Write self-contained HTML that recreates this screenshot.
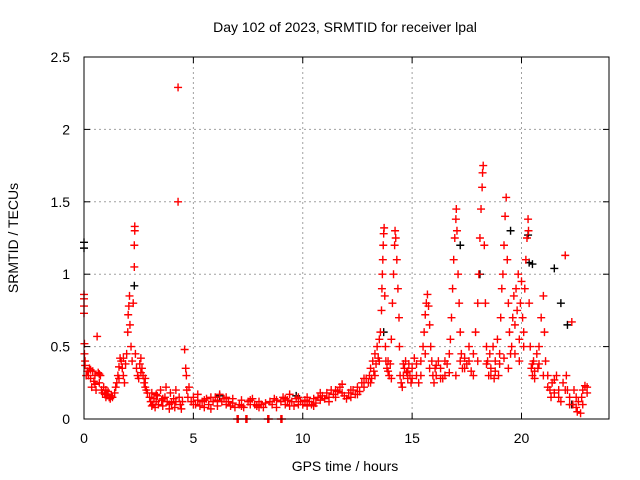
<!DOCTYPE html>
<html><head><meta charset="utf-8"><style>
html,body{margin:0;padding:0;background:#fff;}
svg{display:block;font-family:"Liberation Sans",sans-serif;font-size:14px;}
</style></head><body>
<svg id="chart" width="640" height="480">
<text x="345" y="32" text-anchor="middle">Day 102 of 2023, SRMTID for receiver lpal</text>
<text x="345" y="471" text-anchor="middle">GPS time / hours</text>
<text transform="translate(18,238) rotate(-90)" text-anchor="middle">SRMTID / TECUs</text>
<g id="grid"></g>
<g id="marks"></g>
<g id="axes"></g>
</svg>
<script>
const xTicks=[0,5,10,15,20];
const yTicks=[0,0.5,1,1.5,2,2.5];
const yTickLabels=["0","0.5","1","1.5","2","2.5"];
const redSeries=[[0,0.86],[0,0.83],[0,0.78],[0,0.73],[0.02,0.52],[0.02,0.45],[0.05,0.4],[0.05,0.37],
[0.15,0.33],[0.2,0.3],[0.25,0.35],[0.3,0.28],[0.35,0.22],[0.4,0.33],[0.45,0.26],[0.5,0.3],[0.55,0.2],[0.6,0.57],[0.65,0.32],[0.7,0.25],[0.75,0.3],[0.8,0.2],[0.85,0.18],[0.9,0.22],[0.95,0.17],
[1.0,0.2],[1.05,0.17],[1.1,0.19],[1.15,0.15],[1.2,0.14],[1.25,0.16],[1.3,0.15],[1.4,0.18],[1.45,0.22],
[1.5,0.25],[1.55,0.3],[1.6,0.36],[1.65,0.42],[1.7,0.4],[1.75,0.35],[1.8,0.3],[1.85,0.25],[1.9,0.38],[1.95,0.45],
[2.0,0.6],[2.02,0.72],[2.05,0.78],[2.08,0.85],[2.1,0.65],[2.15,0.5],[2.2,0.4],[2.25,0.8],[2.3,1.05],[2.3,1.2],[2.32,1.3],[2.32,1.33],[2.35,0.45],[2.4,0.35],
[2.45,0.3],[2.5,0.28],[2.55,0.38],[2.6,0.42],[2.65,0.35],[2.7,0.3],[2.75,0.25],[2.8,0.22],[2.85,0.2],[2.9,0.18],
[3.0,0.15],[3.05,0.12],[3.1,0.18],[3.15,0.1],[3.2,0.14],[3.25,0.08],[3.3,0.12],[3.35,0.16],[3.4,0.1],[3.5,0.2],[3.55,0.13],[3.6,0.09],[3.7,0.15],[3.75,0.22],[3.8,0.12],[3.9,0.1],[3.95,0.18],[4.0,0.11],[4.1,0.14],[4.15,0.08],[4.2,0.2],
[4.3,2.29],[4.3,1.5],[4.35,0.15],[4.4,0.1],[4.45,0.07],[4.5,0.12],
[4.6,0.48],[4.65,0.35],[4.68,0.3],[4.7,0.2],[4.75,0.15],[4.8,0.22],[4.9,0.12],
[5.0,0.15],[5.1,0.1],[5.2,0.13],[5.3,0.09],[5.4,0.12],[5.5,0.08],[5.6,0.14],[5.7,0.1],[5.8,0.07],[5.9,0.12],[6.0,0.15],[6.1,0.13],[6.2,0.17],[6.3,0.12],[6.4,0.14],[6.5,0.1],[6.6,0.12],[6.7,0.09],[6.8,0.11],[6.9,0.08],
[7.0,0.0],[7.05,0.0],[7.4,0.0],[7.45,0.0],[8.4,0.0],[8.45,0.0],[9.0,0.0],[9.05,0.0],
[7.1,0.1],[7.2,0.13],[7.3,0.08],[7.5,0.12],[7.6,0.1],[7.7,0.14],[7.8,0.1],[7.9,0.09],[8.0,0.12],[8.1,0.1],[8.2,0.08],[8.5,0.12],[8.6,0.1],[8.7,0.14],[8.8,0.08],[9.0,0.12],[9.1,0.15],[9.2,0.1],[9.3,0.13],[9.4,0.17],[9.5,0.12],[9.6,0.09],[9.7,0.14],[9.8,0.1],[9.9,0.12],
[10.0,0.1],[10.1,0.13],[10.2,0.09],[10.3,0.12],[10.4,0.1],[10.5,0.14],[10.6,0.11],[10.7,0.15],[10.8,0.13],[10.9,0.16],[11.0,0.14],[11.1,0.18],[11.2,0.15],[11.3,0.2],[11.4,0.17],[11.5,0.15],[11.6,0.19],[11.7,0.22],[11.8,0.18],[11.9,0.16],
[12.0,0.14],[12.1,0.18],[12.2,0.15],[12.3,0.2],[12.4,0.17],[12.5,0.22],[12.6,0.19],[12.7,0.25],[12.8,0.22],[12.9,0.28],[13.0,0.25],
[13.05,0.3],[13.1,0.35],[13.15,0.28],[13.2,0.4],[13.25,0.33],[13.3,0.45],[13.35,0.38],[13.4,0.5],[13.45,0.42],[13.5,0.55],[13.55,0.6],
[13.6,0.75],[13.62,0.9],[13.64,1.0],[13.66,1.1],[13.68,1.2],[13.7,1.28],[13.72,1.32],[13.75,0.85],[13.78,0.5],[13.8,0.4],
[13.85,0.35],[13.9,0.4],[13.95,0.3],[14.0,0.38],[14.05,0.55],[14.1,0.8],
[14.15,1.0],[14.2,1.2],[14.22,1.3],[14.25,1.25],[14.3,1.1],[14.35,0.9],[14.4,0.7],[14.42,0.5],[14.45,0.3],[14.5,0.25],
[14.55,0.22],[14.6,0.3],[14.65,0.35],[14.7,0.4],[14.75,0.32],[14.8,0.28],[14.85,0.38],[14.9,0.3],[14.95,0.25],[15.0,0.35],[15.1,0.42],[15.2,0.3],[15.3,0.25],[15.4,0.4],
[15.5,0.5],[15.55,0.6],[15.6,0.72],[15.65,0.8],[15.7,0.86],[15.75,0.78],[15.8,0.65],[15.85,0.5],[15.9,0.4],
[15.95,0.3],[16.0,0.25],[16.05,0.35],[16.1,0.3],[16.2,0.4],[16.3,0.35],[16.4,0.28],[16.5,0.3],[16.6,0.38],[16.7,0.45],[16.75,0.55],[16.8,0.7],
[16.85,0.9],[16.9,1.1],[16.95,1.25],[17.0,1.38],[17.02,1.45],[17.05,1.3],[17.1,1.0],[17.15,0.8],[17.2,0.6],[17.25,0.45],
[17.3,0.35],[17.4,0.42],[17.5,0.38],[17.6,0.5],[17.7,0.33],[17.8,0.45],[17.9,0.6],[18.0,0.8],
[18.05,1.0],[18.1,1.25],[18.15,1.45],[18.2,1.6],[18.22,1.7],[18.25,1.75],[18.3,1.2],[18.35,0.8],[18.4,0.5],
[18.45,0.4],[18.5,0.3],[18.55,0.45],[18.6,0.35],[18.7,0.5],[18.75,0.28],[18.8,0.4],[18.9,0.55],[18.95,0.3],[19.0,0.45],
[19.05,0.7],[19.1,0.9],[19.15,1.0],[19.2,1.2],[19.25,1.4],[19.3,1.53],[19.35,1.1],[19.4,0.8],[19.45,0.6],[19.5,0.45],
[19.55,0.5],[19.6,0.7],[19.65,0.85],[19.7,0.65],[19.75,0.9],[19.8,0.75],[19.85,1.0],[19.9,0.55],[19.95,0.8],[20.0,0.95],[20.05,0.7],[20.1,0.6],
[20.15,0.9],[20.2,1.1],[20.25,1.25],[20.3,1.38],[20.32,1.3],[20.35,0.8],[20.4,0.5],
[20.45,0.35],[20.5,0.3],[20.55,0.4],[20.6,0.28],[20.7,0.45],[20.75,0.35],[20.8,0.5],[20.9,0.7],[21.0,0.85],[21.05,0.6],[21.1,0.4],
[21.2,0.3],[21.3,0.2],[21.35,0.15],[21.4,0.25],[21.5,0.18],[21.6,0.3],[21.7,0.2],[21.8,0.12],[21.9,0.25],[22.0,1.13],[22.05,0.3],[22.1,0.2],
[22.2,0.15],[22.3,0.67],[22.35,0.1],[22.4,0.2],[22.5,0.08],[22.55,0.05],[22.6,0.12],[22.7,0.04],[22.75,0.15],[22.8,0.2],[22.9,0.23],[23.0,0.18],
[0.1,0.3],[0.3,0.34],[0.5,0.24],[0.7,0.31],[1.0,0.15],[1.6,0.28],[1.8,0.42],[2.6,0.32],[2.8,0.28],[3.1,0.09],[3.3,0.17],[3.6,0.14],[3.9,0.07],[4.2,0.12],
[5.0,0.1],[5.2,0.17],[5.5,0.13],[5.8,0.15],[6.1,0.09],[6.5,0.15],[6.8,0.14],[7.2,0.09],[7.6,0.13],[8.0,0.08],[8.3,0.11],[8.8,0.13],[9.2,0.14],[9.4,0.09],[9.8,0.15],
[10.2,0.15],[10.5,0.09],[10.8,0.18],[11.2,0.12],[11.5,0.2],[11.8,0.24],[12.2,0.2],[12.5,0.17],[12.8,0.28],[13.1,0.25],[13.3,0.3],[13.5,0.4],
[13.9,0.33],[14.05,0.28],[14.6,0.38],[14.8,0.33],[15.0,0.28],[15.2,0.38],[15.4,0.3],[15.6,0.45],[15.8,0.35],[16.1,0.37],[16.3,0.28],[16.5,0.4],[16.7,0.32],
[17.0,0.3],[17.2,0.4],[17.4,0.35],[17.6,0.4],[17.8,0.3],[18.0,0.4],[18.4,0.38],[18.6,0.3],[18.8,0.33],[19.0,0.38],[19.2,0.42],[19.4,0.35],[19.7,0.45],[19.9,0.4],[20.1,0.5],
[20.5,0.38],[20.6,0.33],[20.8,0.38],[21.0,0.3],[21.2,0.22],[21.5,0.27],[21.7,0.15],[22.0,0.2],[22.2,0.1],[22.5,0.15],[22.8,0.1],[23.0,0.22]];
const blackSeries=[[0,1.22],[0,1.18],[2.3,0.92],[13.7,0.6],[17.2,1.2],[18.1,1.0],[19.5,1.3],[20.3,1.27],[20.35,1.08],[20.5,1.07],[21.5,1.04],[21.8,0.8],[22.1,0.65],[22.3,0.1],[6.2,0.16],[9.7,0.16]];

const X0=84,X1=609,Y0=419,Y1=57,XMAX=24,YMAX=2.5;
const NS="http://www.w3.org/2000/svg";
function sx(v){return X0+(X1-X0)*v/XMAX;}
function sy(v){return Y0-(Y0-Y1)*v/YMAX;}
function mk(tag,attrs,parent){const e=document.createElementNS(NS,tag);for(const k in attrs)e.setAttribute(k,attrs[k]);parent.appendChild(e);return e;}
const grid=document.getElementById('grid'),axes=document.getElementById('axes'),marks=document.getElementById('marks');
xTicks.forEach((t,i)=>{
  const x=sx(t);
  if(t>0){const g=mk('line',{x1:x,y1:Y0,x2:x,y2:Y1,stroke:'#a0a0a0','stroke-dasharray':'2,3'},grid);
  
  }
  mk('line',{x1:x,y1:Y0,x2:x,y2:Y0-6,stroke:'#000'},axes);
  mk('line',{x1:x,y1:Y1,x2:x,y2:Y1+6,stroke:'#000'},axes);
  const l=mk('text',{x:x,y:Y0+24,'text-anchor':'middle'},axes);l.textContent=String(t);
  
  
});
yTicks.forEach((t,i)=>{
  const y=sy(t);
  if(t>0&&t<YMAX){const g=mk('line',{x1:X0,y1:y,x2:X1,y2:y,stroke:'#a0a0a0','stroke-dasharray':'2,3'},grid);
  
  }
  mk('line',{x1:X0,y1:y,x2:X0+6,y2:y,stroke:'#000'},axes);
  mk('line',{x1:X1,y1:y,x2:X1-6,y2:y,stroke:'#000'},axes);
  const l=mk('text',{x:X0-14,y:y+5,'text-anchor':'end'},axes);l.textContent=yTickLabels[i];
  
  
});
mk('rect',{x:X0,y:Y1,width:X1-X0,height:Y0-Y1,fill:'none',stroke:'#000'},axes);
function cross(series,color,name){
  let d='';
  series.forEach(p=>{const x=sx(p[0]),y=sy(p[1]);d+=`M${x-4},${y}h8M${x},${y-4}v8`;});
  const e=mk('path',{d:d,stroke:color,'stroke-width':1.4,fill:'none'},marks);
  
  
}
cross(blackSeries,'#000','black-series-points');
cross(redSeries,'#ff0000','red-series-points');
</script>
</body></html>
